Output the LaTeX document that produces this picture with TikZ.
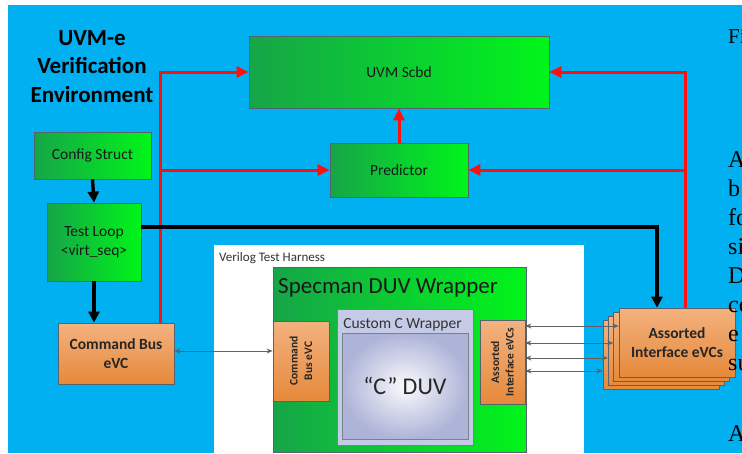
\documentclass[tikz,border=0pt]{standalone}
\usepackage{fontspec}
\setmainfont{Carlito}
\newfontfamily\docserif{Liberation Serif}
\usepackage{xcolor}
\usepackage{tikz}
\usetikzlibrary{positioning,arrows.meta,calc}
\definecolor{UVMsky}{HTML}{00B0F0}
\definecolor{UVMgreenDark}{HTML}{16A548}
\definecolor{UVMgreenLight}{HTML}{00F51A}
\definecolor{UVMorangeLight}{HTML}{F3B27F}
\definecolor{UVMorangeDark}{HTML}{E6893B}
\definecolor{UVMedge}{HTML}{56636D}
\definecolor{UVMred}{HTML}{FF1010}
\definecolor{UVMlav}{HTML}{C5CAE6}
\definecolor{UVMlavDark}{HTML}{AEB4D8}
\definecolor{UVMgrey}{HTML}{5F6368}
\newcommand{\fsz}[2]{\fontsize{#1pt}{#2pt}\selectfont}
\tikzset{
  greenbox/.style={draw=UVMedge, line width=0.8pt, left color=UVMgreenDark, right color=UVMgreenLight, align=center, font=\fsz{15.5}{19}, text=black!90},
  orangebox/.style={draw=UVMedge, line width=0.8pt, top color=UVMorangeLight, bottom color=UVMorangeDark, align=center, font=\bfseries\fsz{15.5}{19}, text=black!85},
  sidebox/.style={orangebox, rotate=90, font=\bfseries\fsz{11.5}{14.5}, inner sep=0pt},
  lavbox/.style={draw=UVMedge!80, line width=0.8pt, align=center, text=black!85},
  redarr/.style={-{Triangle[length=12pt,width=11pt]}, line width=3pt, draw=UVMred},
  blkarr/.style={-{Triangle[length=11pt,width=11pt]}, line width=3.4pt, draw=black},
  busarr/.style={{Stealth[length=6pt,width=5pt]}-{Stealth[length=6pt,width=5pt]}, line width=0.9pt, draw=UVMgrey},
  docfrag/.style={anchor=base west, inner sep=0pt, font=\docserif\fsz{24}{29}, text=black}
}

\begin{document}
\begin{tikzpicture}[x=1pt,y=-1pt]
\useasboundingbox (0,0) rectangle (742,453);
\fill[white] (0,0) rectangle (742,453);
\fill[UVMsky] (8,4.5) rectangle (742,453);

% environment title
\node[font=\bfseries\fsz{23}{28.5}, align=center, text=black] (title) at (92,66.5) {UVM-e\\Verification\\Environment};

% scoreboard side
\node[greenbox, minimum width=300pt, minimum height=72pt] (scbd) at (399,72) {UVM Scbd};
\node[greenbox, minimum width=138pt, minimum height=54pt] (pred) at (399,170) {Predictor};
\node[greenbox, minimum width=117pt, minimum height=47pt] (cfg) at (92.5,155.5) {Config Struct};
\node[greenbox, minimum width=94pt, minimum height=78pt] (loop) at (94,242) {Test Loop\\<virt\_seq>};
\node[orangebox, minimum width=116pt, minimum height=61pt] (cmd) at (116,353.5) {Command Bus\\eVC};

% harness
\fill[white] (214,245) rectangle (584,453);
\node[anchor=base west, inner sep=0pt, font=\fsz{13}{15}, text=black!80] (harness) at (219,261.5) {Verilog Test Harness};
\node[greenbox, minimum width=253pt, minimum height=185pt] (spec) at (399.5,359.5) {};
\node[anchor=base west, inner sep=0pt, font=\fsz{23}{27}, text=black!90] (speclbl) at (278,293) {Specman DUV Wrapper};
\node[lavbox, fill=UVMlav, minimum width=136pt, minimum height=136pt] (custc) at (405,377) {};
\node[anchor=base, inner sep=0pt, font=\fsz{15.5}{18}, text=black!80] (custclbl) at (402.5,328) {Custom C Wrapper};
\node[lavbox, inner color=white!90!UVMlav, outer color=UVMlavDark, minimum width=126pt, minimum height=106pt, font=\fsz{24}{28}] (duv) at (405,386) {“C” DUV};
\node[sidebox, minimum width=80pt, minimum height=56pt] (cmdin) at (301,361) {Command\\Bus eVC};
\node[sidebox, minimum width=84pt, minimum height=45pt] (ifin) at (502.5,362) {Assorted\\Interface eVCs};

% stacked interface eVCs
\foreach \k in {3,2,1}
  \node[orangebox, minimum width=116pt, minimum height=69pt] (card\k) at ({677-5.33*\k},{342.5+4*\k}) {};
\node[orangebox, minimum width=116pt, minimum height=69pt] (card0) at (677,342.5) {Assorted\\Interface eVCs};

% connections
\draw[busarr] (cmd.east |- 0,351) -- (cmdin.north |- 0,351);
\foreach \k/\yy in {0/326,1/343,2/358,3/371}
  \draw[busarr] (ifin.south |- 0,\yy) -- (card\k.west |- 0,\yy);
\draw[redarr] ([xshift=44pt]cmd.north) |- (scbd.west);
\draw[redarr] ([xshift=44pt]cmd.north) |- (pred.west);
\draw[redarr] ([xshift=8pt]card0.north) |- (scbd.east);
\draw[redarr] ([xshift=8pt]card0.north) |- (pred.east);
\draw[redarr] (pred.north) -- (scbd.south);
\draw[blkarr] (cfg.south) -- (loop.north);
\draw[blkarr] (loop.south) -- (loop.south |- cmd.north);
\draw[blkarr] (loop.east |- 0,227) -| ([xshift=-20pt]card0.north);

% page text behind the figure
\begin{scope}
\clip (8,0) rectangle (742,453);
\node[docfrag, font=\docserif\fsz{21}{25}] (fragFi) at (728,43) {Fi};
\foreach \t/\yy [count=\i] in {A/167,b/196,fo/225,si/254,D/283,co/312,e/341,su/370,A/441}
  \node[docfrag] (frag\i) at (728,\yy) {\t};
\end{scope}
\end{tikzpicture}
\end{document}
